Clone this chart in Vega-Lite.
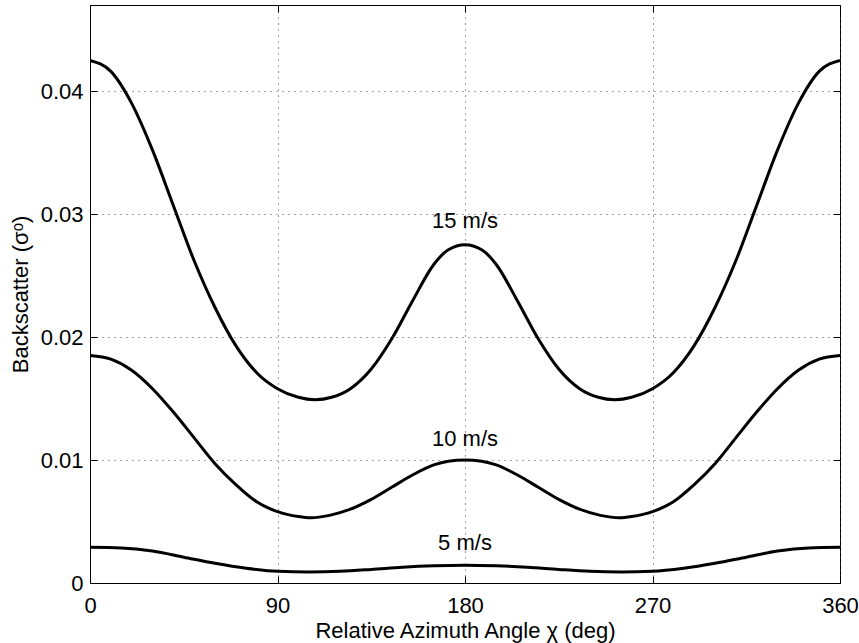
{
  "$schema": "https://vega.github.io/schema/vega-lite/v6.json",
  "width": 750,
  "height": 578,
  "autosize": {"type": "none"},
  "padding": {"left": 90, "top": 5, "right": 19, "bottom": 60},
  "background": "white",
  "config": {
    "font": "Liberation Sans",
    "view": {"stroke": "black", "strokeWidth": 1},
    "axis": {
      "domainColor": "black",
      "domainWidth": 1,
      "tickColor": "black",
      "tickWidth": 1,
      "labelColor": "black",
      "titleColor": "black",
      "labelFontSize": 22,
      "titleFontSize": 22,
      "titleFontWeight": "normal",
      "labelFont": "Liberation Sans",
      "titleFont": "Liberation Sans",
      "gridColor": "#444444",
      "gridDash": [1, 5],
      "gridWidth": 1,
      "gridOpacity": 1
    }
  },
  "datasets": {
    "curves": [
      {"speed": "15 m/s", "chi": 0, "sigma": 0.0425},
      {"speed": "15 m/s", "chi": 10, "sigma": 0.0416},
      {"speed": "15 m/s", "chi": 20, "sigma": 0.0390},
      {"speed": "15 m/s", "chi": 30, "sigma": 0.0352},
      {"speed": "15 m/s", "chi": 40, "sigma": 0.0307},
      {"speed": "15 m/s", "chi": 50, "sigma": 0.0262},
      {"speed": "15 m/s", "chi": 60, "sigma": 0.0224},
      {"speed": "15 m/s", "chi": 70, "sigma": 0.0193},
      {"speed": "15 m/s", "chi": 80, "sigma": 0.0171},
      {"speed": "15 m/s", "chi": 90, "sigma": 0.0158},
      {"speed": "15 m/s", "chi": 100, "sigma": 0.0151},
      {"speed": "15 m/s", "chi": 108, "sigma": 0.0149},
      {"speed": "15 m/s", "chi": 116, "sigma": 0.0151},
      {"speed": "15 m/s", "chi": 125, "sigma": 0.0158},
      {"speed": "15 m/s", "chi": 135, "sigma": 0.0174},
      {"speed": "15 m/s", "chi": 145, "sigma": 0.0199},
      {"speed": "15 m/s", "chi": 155, "sigma": 0.0230},
      {"speed": "15 m/s", "chi": 165, "sigma": 0.0259},
      {"speed": "15 m/s", "chi": 172, "sigma": 0.0271},
      {"speed": "15 m/s", "chi": 180, "sigma": 0.0275},
      {"speed": "15 m/s", "chi": 188, "sigma": 0.0271},
      {"speed": "15 m/s", "chi": 195, "sigma": 0.0259},
      {"speed": "15 m/s", "chi": 205, "sigma": 0.0230},
      {"speed": "15 m/s", "chi": 215, "sigma": 0.0199},
      {"speed": "15 m/s", "chi": 225, "sigma": 0.0174},
      {"speed": "15 m/s", "chi": 235, "sigma": 0.0158},
      {"speed": "15 m/s", "chi": 244, "sigma": 0.0151},
      {"speed": "15 m/s", "chi": 252, "sigma": 0.0149},
      {"speed": "15 m/s", "chi": 260, "sigma": 0.0151},
      {"speed": "15 m/s", "chi": 270, "sigma": 0.0158},
      {"speed": "15 m/s", "chi": 280, "sigma": 0.0171},
      {"speed": "15 m/s", "chi": 290, "sigma": 0.0193},
      {"speed": "15 m/s", "chi": 300, "sigma": 0.0224},
      {"speed": "15 m/s", "chi": 310, "sigma": 0.0262},
      {"speed": "15 m/s", "chi": 320, "sigma": 0.0307},
      {"speed": "15 m/s", "chi": 330, "sigma": 0.0352},
      {"speed": "15 m/s", "chi": 340, "sigma": 0.0390},
      {"speed": "15 m/s", "chi": 350, "sigma": 0.0416},
      {"speed": "15 m/s", "chi": 360, "sigma": 0.0425},
      {"speed": "10 m/s", "chi": 0, "sigma": 0.0185},
      {"speed": "10 m/s", "chi": 10, "sigma": 0.0182},
      {"speed": "10 m/s", "chi": 20, "sigma": 0.0173},
      {"speed": "10 m/s", "chi": 30, "sigma": 0.0158},
      {"speed": "10 m/s", "chi": 40, "sigma": 0.0139},
      {"speed": "10 m/s", "chi": 50, "sigma": 0.0118},
      {"speed": "10 m/s", "chi": 60, "sigma": 0.0097},
      {"speed": "10 m/s", "chi": 70, "sigma": 0.0080},
      {"speed": "10 m/s", "chi": 80, "sigma": 0.0066},
      {"speed": "10 m/s", "chi": 90, "sigma": 0.0058},
      {"speed": "10 m/s", "chi": 100, "sigma": 0.0054},
      {"speed": "10 m/s", "chi": 106, "sigma": 0.0053},
      {"speed": "10 m/s", "chi": 115, "sigma": 0.0055},
      {"speed": "10 m/s", "chi": 125, "sigma": 0.0060},
      {"speed": "10 m/s", "chi": 135, "sigma": 0.0068},
      {"speed": "10 m/s", "chi": 145, "sigma": 0.0078},
      {"speed": "10 m/s", "chi": 155, "sigma": 0.0088},
      {"speed": "10 m/s", "chi": 165, "sigma": 0.0096},
      {"speed": "10 m/s", "chi": 172, "sigma": 0.0099},
      {"speed": "10 m/s", "chi": 180, "sigma": 0.0100},
      {"speed": "10 m/s", "chi": 188, "sigma": 0.0099},
      {"speed": "10 m/s", "chi": 195, "sigma": 0.0096},
      {"speed": "10 m/s", "chi": 205, "sigma": 0.0088},
      {"speed": "10 m/s", "chi": 215, "sigma": 0.0078},
      {"speed": "10 m/s", "chi": 225, "sigma": 0.0068},
      {"speed": "10 m/s", "chi": 235, "sigma": 0.0060},
      {"speed": "10 m/s", "chi": 245, "sigma": 0.0055},
      {"speed": "10 m/s", "chi": 254, "sigma": 0.0053},
      {"speed": "10 m/s", "chi": 260, "sigma": 0.0054},
      {"speed": "10 m/s", "chi": 270, "sigma": 0.0058},
      {"speed": "10 m/s", "chi": 280, "sigma": 0.0066},
      {"speed": "10 m/s", "chi": 290, "sigma": 0.0080},
      {"speed": "10 m/s", "chi": 300, "sigma": 0.0097},
      {"speed": "10 m/s", "chi": 310, "sigma": 0.0118},
      {"speed": "10 m/s", "chi": 320, "sigma": 0.0139},
      {"speed": "10 m/s", "chi": 330, "sigma": 0.0158},
      {"speed": "10 m/s", "chi": 340, "sigma": 0.0173},
      {"speed": "10 m/s", "chi": 350, "sigma": 0.0182},
      {"speed": "10 m/s", "chi": 360, "sigma": 0.0185},
      {"speed": "5 m/s", "chi": 0, "sigma": 0.0029},
      {"speed": "5 m/s", "chi": 15, "sigma": 0.00285},
      {"speed": "5 m/s", "chi": 30, "sigma": 0.0026},
      {"speed": "5 m/s", "chi": 45, "sigma": 0.0021},
      {"speed": "5 m/s", "chi": 60, "sigma": 0.0016},
      {"speed": "5 m/s", "chi": 75, "sigma": 0.0012},
      {"speed": "5 m/s", "chi": 90, "sigma": 0.00095},
      {"speed": "5 m/s", "chi": 105, "sigma": 0.0009},
      {"speed": "5 m/s", "chi": 120, "sigma": 0.00095},
      {"speed": "5 m/s", "chi": 135, "sigma": 0.0011},
      {"speed": "5 m/s", "chi": 150, "sigma": 0.00128},
      {"speed": "5 m/s", "chi": 165, "sigma": 0.0014},
      {"speed": "5 m/s", "chi": 180, "sigma": 0.00145},
      {"speed": "5 m/s", "chi": 195, "sigma": 0.0014},
      {"speed": "5 m/s", "chi": 210, "sigma": 0.00128},
      {"speed": "5 m/s", "chi": 225, "sigma": 0.0011},
      {"speed": "5 m/s", "chi": 240, "sigma": 0.00095},
      {"speed": "5 m/s", "chi": 255, "sigma": 0.0009},
      {"speed": "5 m/s", "chi": 270, "sigma": 0.00095},
      {"speed": "5 m/s", "chi": 285, "sigma": 0.0012},
      {"speed": "5 m/s", "chi": 300, "sigma": 0.0016},
      {"speed": "5 m/s", "chi": 315, "sigma": 0.0021},
      {"speed": "5 m/s", "chi": 330, "sigma": 0.0026},
      {"speed": "5 m/s", "chi": 345, "sigma": 0.00285},
      {"speed": "5 m/s", "chi": 360, "sigma": 0.0029}
    ],
    "labels": [
      {"label": "15 m/s", "chi": 180, "sigma": 0.0289},
      {"label": "10 m/s", "chi": 180, "sigma": 0.0111},
      {"label": "5 m/s", "chi": 180, "sigma": 0.00268}
    ]
  },
  "layer": [
    {
      "data": {"name": "curves"},
      "mark": {"type": "line", "color": "black", "strokeWidth": 3, "interpolate": "monotone", "clip": true},
      "encoding": {
        "x": {
          "field": "chi", "type": "quantitative",
          "scale": {"domain": [0, 360], "nice": false, "zero": false},
          "axis": {
            "orient": "bottom",
            "title": "Relative Azimuth Angle χ (deg)",
            "values": [0, 90, 180, 270, 360],
            "grid": true,
            "tickSize": -7,
            "labelPadding": 19,
            "labelFlush": false,
            "labelOverlap": false,
            "titlePadding": 4
          }
        },
        "y": {
          "field": "sigma", "type": "quantitative",
          "scale": {"domain": [0, 0.047], "nice": false},
          "axis": {
            "orient": "left",
            "title": "Backscatter (σᵒ)",
            "values": [0, 0.01, 0.02, 0.03, 0.04],
            "labelExpr": "datum.value == 0 ? '0' : format(datum.value, '.2f')",
            "grid": true,
            "tickSize": -7,
            "labelPadding": 14,
            "labelOverlap": false,
            "titlePadding": 8
          }
        },
        "detail": {"field": "speed"}
      }
    },
    {
      "data": {"name": "labels"},
      "mark": {"type": "text", "fontSize": 22, "font": "Liberation Sans", "align": "center", "baseline": "alphabetic", "color": "black"},
      "encoding": {
        "x": {
          "field": "chi", "type": "quantitative",
          "axis": {"orient": "top", "values": [0, 90, 180, 270, 360], "labels": false, "title": null, "grid": false, "domain": false, "tickSize": -7}
        },
        "y": {
          "field": "sigma", "type": "quantitative",
          "axis": {"orient": "right", "values": [0, 0.01, 0.02, 0.03, 0.04], "labels": false, "title": null, "grid": false, "domain": false, "tickSize": -7}
        },
        "text": {"field": "label"}
      }
    }
  ]
}
